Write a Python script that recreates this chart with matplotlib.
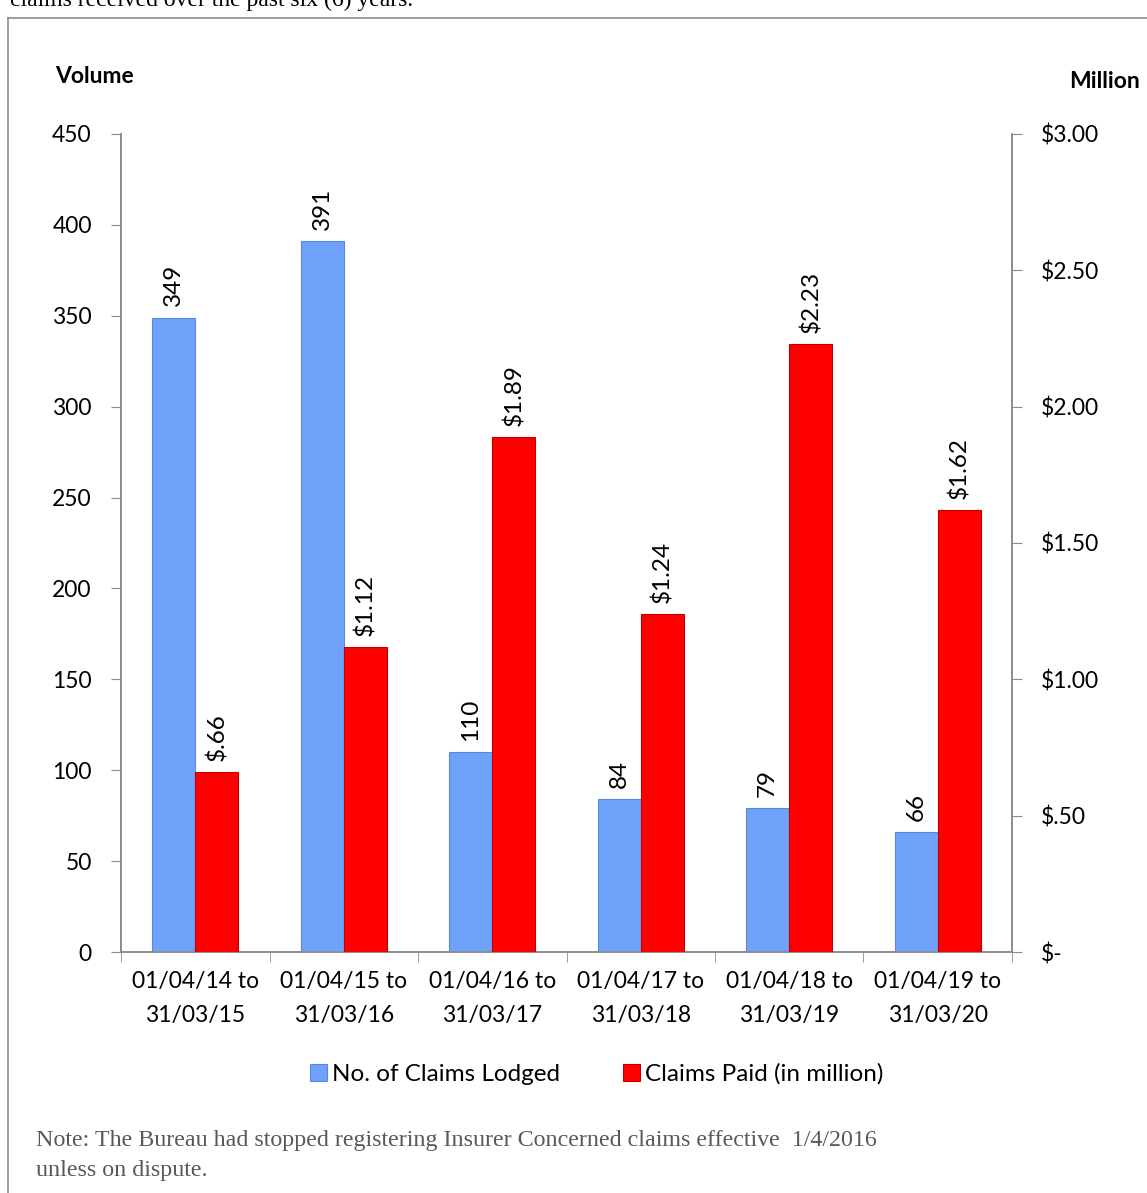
import matplotlib
matplotlib.use('Agg')
import matplotlib.pyplot as plt
import numpy as np

# data
periods = ["01/04/14 to\n31/03/15", "01/04/15 to\n31/03/16", "01/04/16 to\n31/03/17",
           "01/04/17 to\n31/03/18", "01/04/18 to\n31/03/19", "01/04/19 to\n31/03/20"]
claims_lodged = [349, 391, 110, 84, 79, 66]
claims_paid = [0.66, 1.12, 1.89, 1.24, 2.23, 1.62]
paid_labels = ["$.66", "$1.12", "$1.89", "$1.24", "$2.23", "$1.62"]
left_ticks = [0, 50, 100, 150, 200, 250, 300, 350, 400, 450]
right_ticks = [0, 0.5, 1.0, 1.5, 2.0, 2.5, 3.0]
right_tick_labels = ["$-", "$.50", "$1.00", "$1.50", "$2.00", "$2.50", "$3.00"]

plt.rcParams['font.family'] = ['Lato', 'DejaVu Sans']

BLUE = '#6fa2fb'
RED = '#ff0000'
GRAY = '#8c8c8c'
FS = 16.5

fig = plt.figure(figsize=(11.47, 11.93), dpi=100)

# cut-off paragraph text and frame of the document box
fig.text(0.009, 1.0, "claims received over the past six (6) years.", family='Liberation Serif',
         fontsize=17, ha='left', va='center')
fig.add_artist(plt.Line2D([0.007, 0.007], [0.985, 0.0], color=GRAY, lw=1.2))
fig.add_artist(plt.Line2D([0.007, 1.0], [0.985, 0.985], color=GRAY, lw=1.2))

ax = fig.add_axes([0.1055, 0.2020, 0.7768, 0.6857])
ax2 = ax.twinx()

x = np.arange(len(periods))
w = 0.29
b1 = ax.bar(x - w / 2, claims_lodged, w, color=BLUE, edgecolor='#5a88d8', linewidth=0.8,
            label='No. of Claims Lodged', zorder=3)
b2 = ax2.bar(x + w / 2, claims_paid, w, color=RED, edgecolor='#c00000', linewidth=0.8,
             label='Claims Paid (in million)', zorder=3)

ax.set_xlim(-0.5, len(periods) - 0.5)
ax.set_ylim(0, 450)
ax2.set_ylim(0, 3.0)

ax.set_yticks(left_ticks)
ax.set_yticklabels([str(t) for t in left_ticks], fontsize=FS)
ax2.set_yticks(right_ticks)
ax2.set_yticklabels(right_tick_labels, fontsize=FS)

ax.set_xticks(x)
ax.set_xticklabels(periods, fontsize=FS, linespacing=1.75)
ax.set_xticks(np.arange(len(periods) + 1) - 0.5, minor=True)
ax.tick_params(axis='x', which='major', length=0, pad=14)
ax.tick_params(axis='x', which='minor', length=7, color=GRAY, direction='out')
ax.tick_params(axis='y', length=7, color=GRAY, pad=14)
ax2.tick_params(axis='y', length=7, color=GRAY, pad=14)

for a in (ax, ax2):
    a.spines['top'].set_visible(False)
    for s in ('left', 'right', 'bottom'):
        a.spines[s].set_color(GRAY)
        a.spines[s].set_linewidth(1.2)

for rect, v in zip(b1, claims_lodged):
    ax.annotate(str(v), (rect.get_x() + rect.get_width() / 2, v), xytext=(0, 8),
                textcoords='offset points', rotation=90, ha='center', va='bottom', fontsize=17.5)
for rect, v, lab in zip(b2, claims_paid, paid_labels):
    ax2.annotate(lab, (rect.get_x() + rect.get_width() / 2, v), xytext=(0, 8),
                 textcoords='offset points', rotation=90, ha='center', va='bottom', fontsize=17.5)

fig.text(0.048, 0.936, "Volume", fontsize=FS, fontweight='bold', ha='left', va='center')
fig.text(0.994, 0.932, "Million", fontsize=FS, fontweight='bold', ha='right', va='center')

h1, l1 = ax.get_legend_handles_labels()
h2, l2 = ax2.get_legend_handles_labels()
fig.legend(h1 + h2, l1 + l2, loc='center', bbox_to_anchor=(0.52, 0.0995), ncol=2,
           frameon=False, fontsize=17.5, handlelength=0.7, handleheight=0.7,
           handletextpad=0.2, columnspacing=2.6)

fig.text(0.031, 0.044, "Note: The Bureau had stopped registering Insurer Concerned claims effective  1/4/2016",
         family='Liberation Serif', fontsize=17.3, color='#595959', ha='left', va='center')
fig.text(0.031, 0.019, "unless on dispute.", family='Liberation Serif', fontsize=17.3,
         color='#595959', ha='left', va='center')

fig.savefig('out.png', dpi=100)
